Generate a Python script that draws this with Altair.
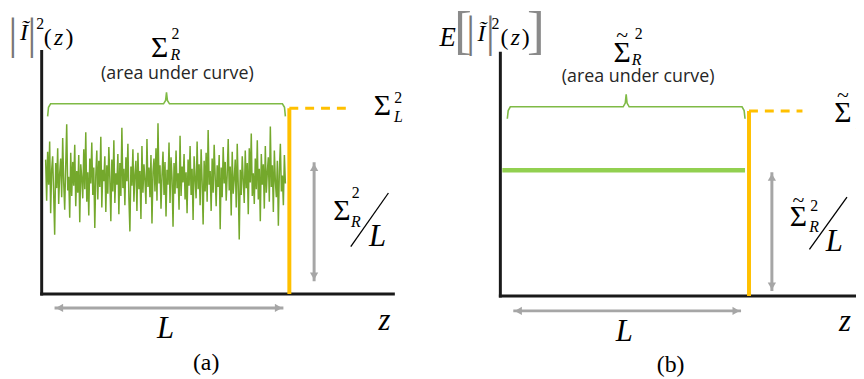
import altair as alt
import pandas as pd

# ---------------- data ----------------
# panel (a): noisy |I~|^2(z) over one length L (mean level = 1.0)
noise_values = [
    1.18, 0.82, 1.25, 0.96, 1.34, 0.71, 1.09, 1.21, 0.88, 0.52, 1.15, 0.93, 1.28, 0.79, 1.06, 1.19, 0.85, 1.37, 0.98, 0.74,
    1.12, 1.49, 0.91, 1.03, 0.67, 1.24, 0.86, 1.16, 0.95, 1.31, 0.77, 1.08, 0.89, 1.22, 0.63, 1.14, 1.02, 0.84, 1.27, 0.92,
    1.42, 0.81, 1.07, 0.69, 1.19, 0.97, 1.33, 0.87, 1.11, 0.58, 1.04, 1.26, 0.83, 1.17, 0.94, 1.38, 0.76, 1.09, 0.99, 1.21,
    0.72, 1.13, 0.88, 1.29, 1.01, 0.64, 1.18, 0.90, 1.35, 0.80, 1.06, 0.96, 1.23, 0.70, 1.15, 0.86, 1.46, 0.93, 1.10, 0.78,
    1.20, 0.99, 1.32, 0.84, 0.55, 1.12, 0.95, 1.27, 0.81, 1.05, 1.17, 0.73, 1.24, 0.92, 1.08, 0.66, 1.30, 0.89, 1.14, 1.00,
    0.79, 1.36, 0.94, 1.11, 0.85, 1.22, 0.62, 1.07, 1.19, 0.90, 1.28, 0.82, 1.50, 0.97, 1.13, 0.75, 1.04, 1.25, 0.87, 1.16,
    0.68, 1.09, 0.96, 1.33, 0.80, 1.20, 1.02, 0.59, 1.15, 0.88, 1.26, 0.93, 1.06, 0.74, 1.39, 0.86, 1.12, 0.98, 1.23, 0.83,
    1.07, 0.71, 1.18, 0.95, 1.30, 0.87, 1.10, 0.65, 1.21, 1.01, 0.84, 1.34, 0.92, 1.14, 0.78, 1.27, 0.99, 0.61, 1.17, 0.90,
    1.24, 0.81, 1.44, 0.96, 1.08, 0.73, 1.19, 0.89, 1.31, 1.03, 0.77, 1.13, 0.94, 1.22, 0.57, 1.11, 0.85, 1.29, 0.97, 1.16,
    0.82, 1.05, 1.36, 0.91, 1.12, 0.69, 1.25, 0.88, 1.01, 1.18, 0.76, 1.32, 0.95, 0.48, 1.09, 0.87, 1.21, 1.00, 0.80, 1.26,
    0.93, 1.15, 0.70, 1.28, 0.98, 1.41, 0.86, 1.06, 0.79, 1.19, 0.92, 1.35, 0.83, 1.10, 0.64, 1.23, 0.96, 1.14, 0.75, 1.30,
    0.89, 1.07, 1.20, 0.81, 1.47, 0.94, 1.13, 0.72, 1.26, 0.99, 0.85, 1.17, 0.60, 1.08, 1.32, 0.90, 1.04, 0.78, 1.22, 0.97,
]
noise_z_start, noise_z_end = 0.016, 0.984
# panel (b): expected value, flat level
flat_level = 1.0
flat_z = [0.008, 0.984]
# lengths / levels
L_len = 1.0
sigmaL_level_a = 1.63
sigmaL_level_b = 1.47

# ---------------- styling ----------------
GREEN_NOISE = "#74a82c"
GREEN_FLAT = "#92d050"
GREEN_BRACE = "#7fba45"
ORANGE = "#ffc000"
GREY = "#a6a6a6"
AXIS = "#1a1a1a"
SERIF = "Liberation Serif, Times New Roman, serif"
SANS = "Open Sans"

W, H = 428, 371


def make_panel(zdom, vdom, cfg):
    xs = alt.Scale(domain=zdom, nice=False, zero=False)
    ys = alt.Scale(domain=vdom, nice=False, zero=False)

    def X(f="z"):
        return alt.X(f, type="quantitative", scale=xs, axis=None)

    def Y(f="v"):
        return alt.Y(f, type="quantitative", scale=ys, axis=None)

    layers = []

    def rules(rows, **kw):
        df = pd.DataFrame(rows, columns=["z", "v", "z2", "v2"])
        return alt.Chart(df).mark_rule(clip=True, **kw).encode(
            x=X(), y=Y(), x2=alt.X2("z2"), y2=alt.Y2("v2"))

    def txt(rows, **kw):
        df = pd.DataFrame(rows, columns=["z", "v", "t"])
        base = dict(align="center", baseline="middle", clip=True, color="black")
        base.update(kw)
        return alt.Chart(df).mark_text(**base).encode(x=X(), y=Y(), text="t:N")

    def heads(rows, shape, size=70):
        df = pd.DataFrame(rows, columns=["z", "v"])
        return alt.Chart(df).mark_point(shape=shape, filled=True, size=size, opacity=1,
                                        color=GREY, clip=True).encode(x=X(), y=Y())

    def brace(z0, z1, zc, v, d, p):
        dz = 0.012
        dv = 0.02
        pts = [(z0, v - d), (z0 + dz * 0.3, v - dv * 1.5), (z0 + dz, v), (zc - dz, v),
               (zc - dz * 0.3, v + dv * 1.5), (zc, v + p), (zc + dz * 0.3, v + dv * 1.5),
               (zc + dz, v), (z1 - dz, v), (z1 - dz * 0.3, v - dv * 1.5), (z1, v - d)]
        df = pd.DataFrame([{"z": a, "v": b, "i": i} for i, (a, b) in enumerate(pts)])
        return alt.Chart(df).mark_line(color=GREEN_BRACE, strokeWidth=1.6, clip=True,
                                       interpolate="linear").encode(
            x=X(), y=Y(), order="i:Q")

    # data curve
    layers.append(cfg["curve"](X, Y))

    # axes
    layers.append(rules([(0, 0, 0, cfg["yaxis_top"]), (0, 0, cfg["xaxis_end"], 0)],
                        color=AXIS, strokeWidth=3, strokeCap="square"))
    # orange end line + dashed continuation
    lv = cfg["sigL"]
    layers.append(rules([(L_len, 0, L_len, lv)], color=ORANGE, strokeWidth=4))
    layers.append(rules([(L_len, lv, cfg["dash_end"], lv)], color=ORANGE, strokeWidth=3,
                        strokeDash=[9, 7]))

    # grey arrows
    va = cfg["varrow"]  # z, v0, v1, head offset
    ha = cfg["harrow"]  # v, z0, z1, _, head offset
    layers.append(rules([(va[0], va[1], va[0], va[2]), (ha[1], ha[0], ha[2], ha[0])],
                        color=GREY, strokeWidth=3))
    layers.append(heads([(va[0], va[2] - va[3])], "triangle-up"))
    layers.append(heads([(va[0], va[1] + va[3])], "triangle-down"))
    layers.append(heads([(ha[1] + ha[4], ha[0])], "triangle-left"))
    layers.append(heads([(ha[2] - ha[4], ha[0])], "triangle-right"))

    # brace
    layers.append(brace(*cfg["brace"]))

    # slash in Sigma/L label
    layers.append(rules([cfg["slash"]], color="black", strokeWidth=1.3))

    # texts
    layers.append(txt(cfg["sigma"], font=SERIF, fontSize=30))
    if cfg["tilde"]:
        layers.append(txt(cfg["tilde"], font=SERIF, fontSize=22))
    layers.append(txt(cfg["sup"], font=SERIF, fontSize=16))
    layers.append(txt(cfg["sub"], font=SERIF, fontSize=16, fontStyle="italic"))
    layers.append(txt(cfg["big_it"], font=SERIF, fontSize=31, fontStyle="italic"))
    layers.append(txt(cfg["ylab_it"], font=SERIF, fontSize=24, fontStyle="italic"))
    if cfg.get("ylab_big"):
        layers.append(txt(cfg["ylab_big"], font=SERIF, fontSize=27, fontStyle="italic"))
    layers.append(txt(cfg["ylab_paren"], font=SERIF, fontSize=24))
    layers.append(txt(cfg["bars"], font=SERIF, fontSize=44, color="#777777"))
    if cfg.get("brackets"):
        layers.append(txt(cfg["brackets"], font=SERIF, fontSize=54, color="#8a8a8a"))
    layers.append(txt(cfg["area"], font=SANS, fontSize=18, color="#262626"))
    layers.append(txt(cfg["panel"], font=SERIF, fontSize=24))

    return alt.layer(*layers).properties(width=W, height=H)


# ---- panel (a) ----
def curve_a(X, Y):
    n = len(noise_values)
    step = (noise_z_end - noise_z_start) / (n - 1)
    df = pd.DataFrame({"z": [noise_z_start + i * step for i in range(n)], "v": noise_values})
    return alt.Chart(df).mark_line(color=GREEN_NOISE, strokeWidth=1.5, clip=True).encode(
        x=X(), y=Y())


cfg_a = dict(
    curve=curve_a,
    yaxis_top=2.13, xaxis_end=1.42, sigL=sigmaL_level_a, dash_end=1.232,
    varrow=(1.10, 0.113, 1.157, 0.045),
    harrow=(-0.122, 0.052, 0.976, 0, 0.02),
    brace=(0.024, 0.984, 0.504, 1.67, 0.11, 0.10),
    slash=(1.400, 0.887, 1.248, 0.417),
    sigma=[(0.476, 2.16, "Σ"), (1.376, 1.65, "Σ"), (1.212, 0.725, "Σ")],
    tilde=[],
    sup=[(0.540, 2.28, "2"), (1.440, 1.72, "2"), (1.268, 0.887, "2"), (-0.006, 2.37, "2")],
    sub=[(0.540, 2.10, "R"), (1.440, 1.556, "L"), (1.268, 0.635, "R")],
    big_it=[(0.500, -0.304, "L"), (1.384, -0.235, "z"), (1.356, 0.496, "L")],
    ylab_it=[(-0.072, 2.29, "Ĩ"), (0.068, 2.243, "z")],
    ylab_paren=[(0.024, 2.243, "("), (0.112, 2.243, ")")],
    bars=[(-0.116, 2.26, "|"), (-0.040, 2.26, "|")],
    area=[(0.548, 1.93, "(area under curve)")],
    panel=[(0.664, -0.609, "(a)")],
)
panel_a = make_panel([-0.136, 1.576], [-0.7304, 2.4957], cfg_a)


# ---- panel (b) ----
def curve_b(X, Y):
    df = pd.DataFrame({"z": flat_z, "v": [flat_level, flat_level]})
    return alt.Chart(df).mark_line(color=GREEN_FLAT, strokeWidth=4.5, clip=True).encode(
        x=X(), y=Y())


cfg_b = dict(
    curve=curve_b,
    yaxis_top=1.93, xaxis_end=1.45, sigL=sigmaL_level_b, dash_end=1.215,
    varrow=(1.092, 0.039, 0.984, 0.04),
    harrow=(-0.118, 0.052, 0.968, 0, 0.02),
    brace=(0.028, 0.984, 0.506, 1.504, 0.095, 0.10),
    slash=(1.394, 0.787, 1.243, 0.370),
    sigma=[(0.490, 1.93, "Σ"), (1.378, 1.455, "Σ"), (1.199, 0.625, "Σ")],
    tilde=[(0.490, 2.075, "~"), (1.378, 1.595, "~"), (1.199, 0.76, "~")],
    sup=[(0.556, 2.08, "2"), (1.450, 1.53, "2"), (1.262, 0.717, "2"), (-0.020, 2.165, "2")],
    sub=[(0.548, 1.875, "R"), (1.450, 1.37, "L"), (1.262, 0.551, "R")],
    big_it=[(0.498, -0.283, "L"), (1.386, -0.205, "z"), (1.343, 0.425, "L")],
    ylab_it=[(-0.076, 2.08, "Ĩ"), (0.060, 2.047, "z")],
    ylab_big=[(-0.212, 2.047, "E")],
    ylab_paren=[(0.016, 2.047, "("), (0.102, 2.047, ")")],
    bars=[(-0.120, 2.08, "|"), (-0.040, 2.08, "|")],
    brackets=[(-0.151, 2.10, "["), (0.143, 2.10, "]")],
    area=[(0.554, 1.74, "(area under curve)")],
    panel=[(0.685, -0.551, "(b)")],
)
panel_b = make_panel([-0.2749, 1.4303], [-0.6457, 2.2756], cfg_b)

chart = alt.hconcat(panel_a, panel_b, spacing=0).properties(
    padding=0, background="white"
).configure_view(stroke=None)

chart.save("out.html", embed_options={"renderer": "svg", "actions": False})
